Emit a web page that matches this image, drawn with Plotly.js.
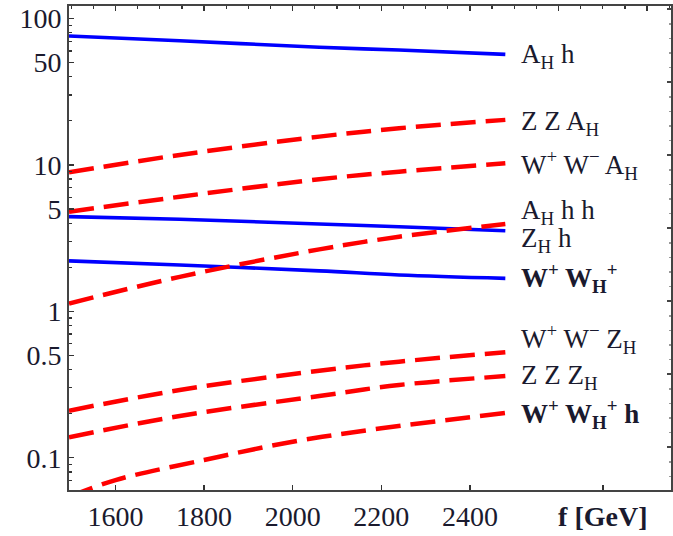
<!DOCTYPE html>
<html>
<head>
<meta charset="utf-8">
<script src="https://cdn.plot.ly/plotly-3.0.1.min.js"></script>
<style>html,body{margin:0;padding:0;background:#fff;}#chart{width:673px;height:536px;}</style>
</head>
<body>
<div id="chart"></div>
<script>
// f [GeV] sample points
const fGrid = [1495, 1745, 2060, 2240, 2480];
const AH_h      = [75.9, 70.5, 63.6, 60.9, 56.9];
const ZZ_AH     = [8.90, 11.7, 15.6, 17.8, 20.3];
const WW_AH     = [4.79, 6.06, 7.98, 8.99, 10.26];
const ZH_h      = [4.43, 4.25, 3.95, 3.78, 3.55];
const AH_hh     = [1.13, 1.72, 2.65, 3.23, 3.95];
const W_WH      = [2.21, 2.07, 1.89, 1.77, 1.68];
const WW_ZH     = [0.2095, 0.290, 0.393, 0.453, 0.525];
const ZZ_ZH     = [0.138, 0.193, 0.264, 0.314, 0.361];
const fGrid2    = [1495, 1600, 1800, 2000, 2200, 2480];
const W_WH_h    = [0.054, 0.0704, 0.0965, 0.1286, 0.1588, 0.202];

const labelText = [
  'A<sub>H</sub> h',
  'Z Z A<sub>H</sub>',
  'W<sup>+</sup> W<sup>−</sup> A<sub>H</sub>',
  'A<sub>H</sub> h h',
  'Z<sub>H</sub> h',
  '<b>W<sup>+</sup> W<sub>H</sub><sup>+</sup></b>',
  'W<sup>+</sup> W<sup>−</sup> Z<sub>H</sub>',
  'Z Z Z<sub>H</sub>',
  '<b>W<sup>+</sup> W<sub>H</sub><sup>+</sup> h</b>'
];
const labelLogY = [1.744, 1.284, 0.999, 0.675, 0.487, 0.2275, -0.189, -0.449, -0.7015];

const xTicks = [1600, 1800, 2000, 2200, 2400, 2700];
const xTickText = ['1600', '1800', '2000', '2200', '2400', '<b>f [GeV]</b>'];
const yTicks = [0.1, 0.5, 1, 5, 10, 50, 100];
const yTickText = ['0.1', '0.5', '1', '5', '10', '50', '100'];
const yMinor = [0.07,0.08,0.09,0.2,0.3,0.4,0.6,0.7,0.8,0.9,2,3,4,6,7,8,9,20,30,40,60,70,80,90];

const blue = '#0000ff', red = '#ff0000';
const solid = {color: blue, width: 3.6, shape: 'spline'};
const dashed = {color: red, width: 4.5, dash: '25px,10px', shape: 'spline'};

function tr(x, y, line) { return {x: x, y: y, type: 'scatter', mode: 'lines', line: line, hoverinfo: 'skip', showlegend: false}; }

const data = [
  tr(fGrid, AH_h, solid),
  tr(fGrid, ZH_h, solid),
  tr(fGrid, W_WH, solid),
  tr(fGrid, ZZ_AH, dashed),
  tr(fGrid, WW_AH, dashed),
  tr(fGrid, AH_hh, dashed),
  tr(fGrid, WW_ZH, dashed),
  tr(fGrid, ZZ_ZH, dashed),
  tr(fGrid2, W_WH_h, dashed),
  // empty carriers so the frame tick axes are drawn
  {x: [], y: [], type: 'scatter', mode: 'lines', xaxis: 'x2', yaxis: 'y2', hoverinfo: 'skip', showlegend: false},
  {x: [], y: [], type: 'scatter', mode: 'lines', xaxis: 'x', yaxis: 'y3', hoverinfo: 'skip', showlegend: false}
];

const xr = [1495, 2854];
const yr = [Math.log10(0.0602), Math.log10(121.7)];
const FAM = "'Liberation Serif', 'Times New Roman', serif";
const font = {family: FAM, size: 28, color: '#1a1a2e'};

const layout = {
  width: 673, height: 536,
  margin: {l: 69, r: 2, t: 6, b: 46},
  paper_bgcolor: '#fff', plot_bgcolor: '#fff',
  font: font,
  xaxis: {range: xr, tickvals: xTicks, ticktext: xTickText, ticks: 'inside', ticklen: 5, tickwidth: 1.5, tickcolor: '#333',
          showline: true, linecolor: '#444', linewidth: 2, mirror: true, showgrid: false, zeroline: false, tickfont: font},
  xaxis2: {range: xr, overlaying: 'x', side: 'top', anchor: 'y', tick0: 1600, dtick: 200, ticks: 'inside', ticklen: 5, tickwidth: 1.5, tickcolor: '#333',
           minor: {tick0: 1600, dtick: 50, ticks: 'inside', ticklen: 3, tickwidth: 1.2, tickcolor: '#333', showgrid: false},
           showticklabels: false, showgrid: false, zeroline: false, showline: false},
  yaxis: {type: 'log', range: yr, tickvals: yTicks, ticktext: yTickText, ticks: 'inside', ticklen: 5, tickwidth: 1.5, tickcolor: '#333',
          showline: true, linecolor: '#444', linewidth: 2, mirror: true, showgrid: false, zeroline: false, tickfont: font},
  yaxis3: {type: 'log', range: yr, overlaying: 'y', side: 'left', anchor: 'x', tickvals: yMinor, ticks: 'inside', ticklen: 3, tickwidth: 1.2, tickcolor: '#333',
           showticklabels: false, showgrid: false, zeroline: false, showline: false},
  yaxis2: {range: [0, 484], overlaying: 'y', side: 'right', anchor: 'x', tick0: 42.7, dtick: 73, ticks: 'inside', ticklen: 4, tickwidth: 2, tickcolor: '#444',
           minor: {tick0: 42.7, dtick: 14.6, ticks: 'inside', ticklen: 2, tickwidth: 1.5, tickcolor: '#999', showgrid: false},
           showticklabels: false, showgrid: false, zeroline: false, showline: false},
  annotations: labelText.map((t, i) => ({
    xref: 'x', yref: 'y', x: 2510, y: labelLogY[i], text: t, showarrow: false, xanchor: 'left', yanchor: 'middle',
    font: {family: FAM, size: 27, color: '#1a1a2e'}
  }))
};

Plotly.newPlot('chart', data, layout, {staticPlot: true, displayModeBar: false});
</script>
</body>
</html>
